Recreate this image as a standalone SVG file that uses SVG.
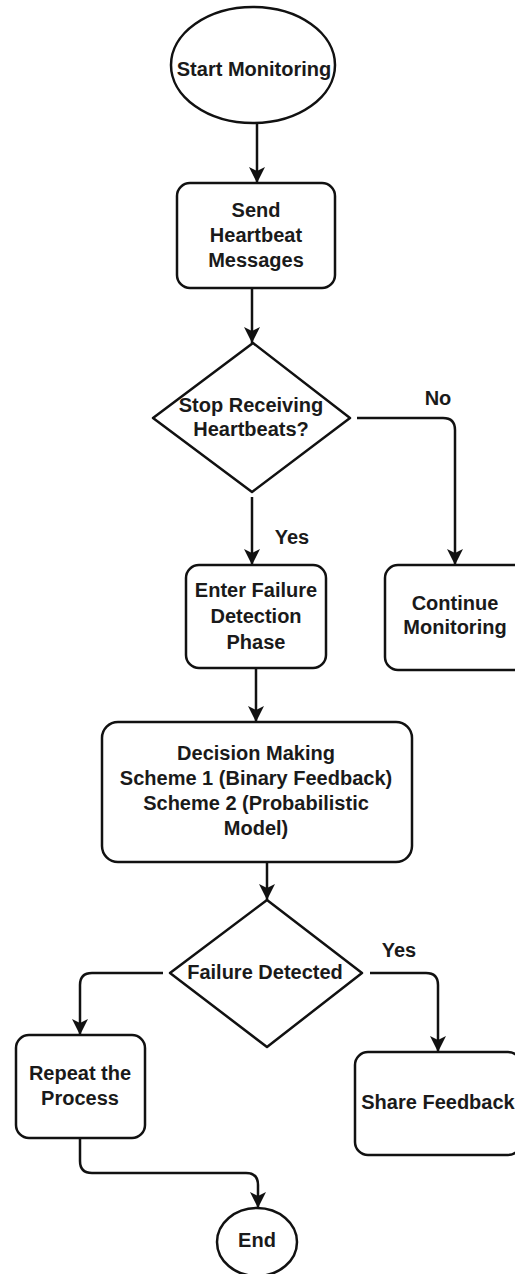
<svg xmlns="http://www.w3.org/2000/svg" width="515" height="1274" viewBox="0 0 515 1274">
  <style>
    .shape { fill: #ffffff; stroke: #111111; stroke-width: 2.5; stroke-linejoin: round; }
    .edge { fill: none; stroke: #111111; stroke-width: 2.5; marker-end: url(#arrow); }
    .label { font-family: "Liberation Sans", Arial, sans-serif; font-weight: bold; font-size: 20px; fill: #1a1a1a; text-anchor: middle; dominant-baseline: central; }
  </style>
  <defs>
    <marker id="arrow" markerUnits="userSpaceOnUse" markerWidth="18" markerHeight="18" refX="16" refY="8" orient="auto">
      <path d="M0,0 L16,8 L0,16 L4,8 Z" fill="#111111"/>
    </marker>
  </defs>
  <rect width="515" height="1274" fill="#ffffff"/>

  <!-- connectors -->
  <g id="connectors">
    <path class="edge" d="M257,123 L257,183"/>
    <path class="edge" d="M252,288 L252,343"/>
    <path class="edge" d="M357,418 L443,418 Q455,418 455,430 L455,565"/>
    <path class="edge" d="M252,497 L252,565"/>
    <path class="edge" d="M256,668 L256,722"/>
    <path class="edge" d="M267,862 L267,900"/>
    <path class="edge" d="M163,973 L92,973 Q80,973 80,985 L80,1035"/>
    <path class="edge" d="M370,973 L426,973 Q438,973 438,985 L438,1052"/>
    <path class="edge" d="M80,1138 L80,1161 Q80,1173 92,1173 L246,1173 Q258,1173 258,1185 L258,1208"/>
    <text class="label" x="438" y="398">No</text>
    <text class="label" x="292" y="537">Yes</text>
    <text class="label" x="399" y="950">Yes</text>
  </g>

  <g id="start">
    <ellipse class="shape" cx="253" cy="65" rx="82" ry="58"/>
    <text class="label" x="254" y="69">Start Monitoring</text>
  </g>

  <g id="send-heartbeat">
    <rect class="shape" x="177" y="183" width="158" height="105" rx="13"/>
    <text class="label" x="256" y="210">Send</text>
    <text class="label" x="256" y="235">Heartbeat</text>
    <text class="label" x="256" y="260">Messages</text>
  </g>

  <g id="stop-receiving">
    <polygon class="shape" points="253,343 350,418 252,492 153,418"/>
    <text class="label" x="251" y="405">Stop Receiving</text>
    <text class="label" x="251" y="429">Heartbeats?</text>
  </g>

  <g id="continue-monitoring">
    <rect class="shape" x="385" y="565" width="142" height="105" rx="13"/>
    <text class="label" x="455" y="603">Continue</text>
    <text class="label" x="455" y="627">Monitoring</text>
  </g>

  <g id="enter-failure-detection">
    <rect class="shape" x="186" y="565" width="140" height="103" rx="13"/>
    <text class="label" x="256" y="590">Enter Failure</text>
    <text class="label" x="256" y="616">Detection</text>
    <text class="label" x="256" y="642">Phase</text>
  </g>

  <g id="decision-making">
    <rect class="shape" x="102" y="722" width="310" height="140" rx="16"/>
    <text class="label" x="256" y="753">Decision Making</text>
    <text class="label" x="256" y="778">Scheme 1 (Binary Feedback)</text>
    <text class="label" x="256" y="803">Scheme 2 (Probabilistic</text>
    <text class="label" x="256" y="828">Model)</text>
  </g>

  <g id="failure-detected">
    <polygon class="shape" points="267,900 362,973 267,1047 170,973"/>
    <text class="label" x="265" y="972">Failure Detected</text>
  </g>

  <g id="repeat-process">
    <rect class="shape" x="16" y="1035" width="129" height="103" rx="13"/>
    <text class="label" x="80" y="1073">Repeat the</text>
    <text class="label" x="80" y="1098">Process</text>
  </g>

  <g id="share-feedback">
    <rect class="shape" x="355" y="1052" width="166" height="103" rx="13"/>
    <text class="label" x="438" y="1102">Share Feedback</text>
  </g>

  <g id="end">
    <ellipse class="shape" cx="257" cy="1242" rx="40" ry="34"/>
    <text class="label" x="257" y="1240">End</text>
  </g>
</svg>
